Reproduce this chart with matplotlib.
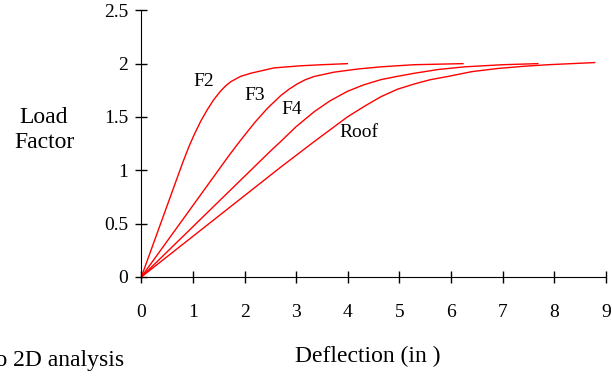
import matplotlib
matplotlib.use("Agg")
import matplotlib.pyplot as plt

plt.rcParams['font.family'] = ['Liberation Serif', 'DejaVu Serif']

# deflection (in) vs load factor
f2_x = [0, 0.8, 0.92, 1.02, 1.15, 1.28, 1.4, 1.53, 1.63, 1.73, 1.92, 2.12, 2.57, 3.09, 3.5, 3.99]
f2_y = [0, 1.07, 1.22, 1.33, 1.46, 1.57, 1.66, 1.74, 1.79, 1.83, 1.88, 1.91, 1.96, 1.98, 1.99, 2.0]
f3_x = [0, 1.7, 1.92, 2.2, 2.44, 2.7, 2.86, 3.02, 3.18, 3.35, 3.73, 4.2, 4.64, 5.28, 6.23]
f3_y = [0, 1.14, 1.28, 1.45, 1.58, 1.7, 1.76, 1.81, 1.85, 1.88, 1.92, 1.95, 1.97, 1.99, 2.0]
f4_x = [0, 2.5, 2.7, 3.0, 3.35, 3.65, 3.99, 4.3, 4.64, 4.95, 5.29, 5.75, 6.26, 7.0, 7.68]
f4_y = [0, 1.18, 1.27, 1.41, 1.55, 1.65, 1.74, 1.8, 1.85, 1.88, 1.91, 1.945, 1.97, 1.99, 2.0]
roof_x = [0, 2.7, 3.35, 3.99, 4.32, 4.64, 4.96, 5.29, 5.6, 5.94, 6.4, 6.91, 7.4, 7.88, 8.78]
roof_y = [0, 1.03, 1.27, 1.5, 1.6, 1.69, 1.76, 1.81, 1.85, 1.88, 1.925, 1.955, 1.975, 1.99, 2.01]

labels = ["F2", "F3", "F4", "Roof"]
label_pos = [(1.2, 1.83), (2.19, 1.70), (2.92, 1.57), (4.22, 1.35)]

xticks = list(range(0, 10))
yticks = [0, 0.5, 1, 1.5, 2, 2.5]
ytick_labels = ["0", "0.5", "1", "1.5", "2", "2.5"]

fig = plt.figure(figsize=(6.12, 3.76), dpi=100)
ax = fig.add_axes([0.2309, 0.2633, 0.7593, 0.7093])

for xs, ys in [(f2_x, f2_y), (f3_x, f3_y), (f4_x, f4_y), (roof_x, roof_y)]:
    ax.plot(xs, ys, color="red", lw=1.0)

for lab, (lx, ly) in zip(labels, label_pos):
    ax.text(lx, ly, lab, fontsize=14, ha="center", va="center")

ax.set_xlim(0, 9)
ax.set_ylim(0, 2.5)
ax.set_xticks(xticks)
ax.set_xticklabels([str(t) for t in xticks])
ax.set_yticks(yticks)
ax.set_yticklabels(ytick_labels)
ax.spines["top"].set_visible(False)
ax.spines["right"].set_visible(False)
ax.tick_params(axis="both", direction="inout", length=9, width=1, labelsize=14)
ax.tick_params(axis="x", pad=15)
ax.tick_params(axis="y", pad=5)

fig.text(0.072, 0.654, "Load\nFactor", fontsize=17, ha="center", va="center",
         linespacing=1.2)
fig.text(0.601, 0.051, "Deflection (in )", fontsize=17, ha="center", va="center")
fig.text(0.203, 0.042, "to 2D analysis", fontsize=17, ha="right", va="center")

fig.savefig("out.png", dpi=100)
